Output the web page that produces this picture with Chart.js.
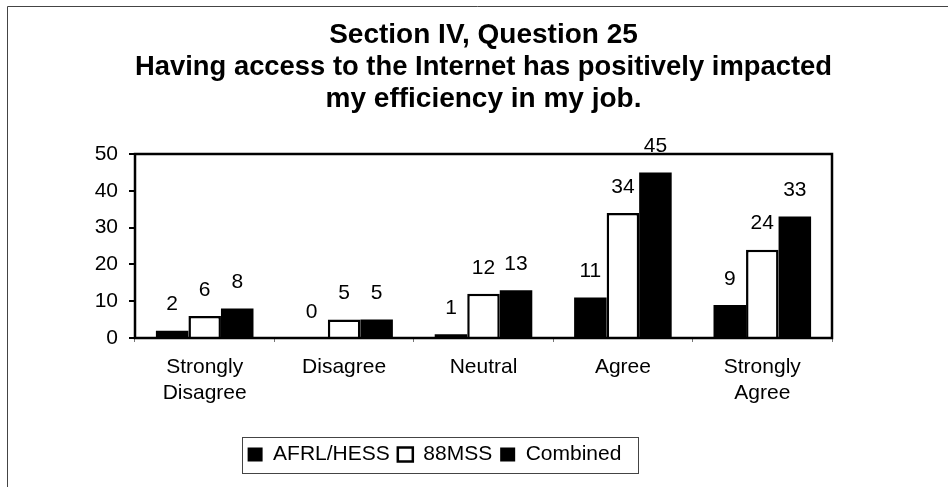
<!DOCTYPE html>
<html>
<head>
<meta charset="utf-8">
<script src="https://cdn.jsdelivr.net/npm/chart.js@4.4.1/dist/chart.umd.min.js"></script>
<style>
  html, body { margin: 0; padding: 0; background: #fff; }
  canvas { display: block; }
</style>
</head>
<body>
<canvas id="c" width="948" height="487"></canvas>
<script>
// ---- data ----
const categories = [['Strongly', 'Disagree'], 'Disagree', 'Neutral', 'Agree', ['Strongly', 'Agree']];
const seriesNames = ['AFRL/HESS', '88MSS', 'Combined'];
const afrlHess = [2, 0, 1, 11, 9];
const mss88 = [6, 5, 12, 34, 24];
const combined = [8, 5, 13, 45, 33];
const yMin = 0, yMax = 50, yStep = 10;
const titleLines = [
  'Section IV, Question 25',
  'Having access to the Internet has positively impacted',
  'my efficiency in my job.'
];

const FONT = "'Liberation Sans', Arial, Helvetica, sans-serif";

const decorPlugin = {
  id: 'decor',
  beforeDraw(chart) {
    const ctx = chart.ctx;
    ctx.save();
    ctx.strokeStyle = '#444';
    ctx.lineWidth = 1;
    ctx.beginPath();
    ctx.moveTo(7.5, 487);
    ctx.lineTo(7.5, 6.5);
    ctx.lineTo(948, 6.5);
    ctx.stroke();
    ctx.restore();
  },
  afterLayout(chart) {
    const lg = chart.legend;
    if (lg) {
      const cx = 434.5;
      const half = 250;
      lg.left = cx - half;
      lg.right = cx + half;
    }
  },
  afterDatasetsDraw(chart) {
    const ctx = chart.ctx;
    const a = chart.chartArea;
    ctx.save();
    // value labels
    ctx.fillStyle = '#000';
    ctx.font = '21px ' + FONT;
    ctx.textAlign = 'center';
    ctx.textBaseline = 'middle';
    chart.data.datasets.forEach((ds, di) => {
      const meta = chart.getDatasetMeta(di);
      meta.data.forEach((bar, i) => {
        ctx.fillText(String(ds.data[i]), bar.x, bar.y - 26);
      });
    });
    // plot frame
    ctx.strokeStyle = '#000';
    ctx.lineWidth = 2.5;
    ctx.strokeRect(a.left, a.top, a.right - a.left, a.bottom - a.top);
    ctx.restore();
  },
  afterDraw(chart) {
    const lg = chart.legend;
    if (!lg || !lg.lineWidths) return;
    const pad = lg.options.labels.padding;
    const startX = (lg.left + pad + lg.right - lg.lineWidths[0]) / 2;
    const endX = startX + lg.lineWidths[0] - pad;
    const fs = lg.options.labels.font.size;
    const ctx = chart.ctx;
    ctx.save();
    ctx.strokeStyle = '#444';
    ctx.lineWidth = 1;
    const top = Math.round(lg.top + pad - 7) + 0.5;
    const bottom = Math.round(lg.top + pad + fs + 8) + 0.5;
    ctx.strokeRect(Math.round(startX - 6) + 0.5, top, Math.round(endX + 16 - (startX - 6)), bottom - top);
    ctx.restore();
  }
};

new Chart(document.getElementById('c'), {
  type: 'bar',
  data: {
    labels: categories,
    datasets: [
      { label: seriesNames[0], data: afrlHess, backgroundColor: '#000', borderColor: '#000', borderWidth: 0 },
      { label: seriesNames[1], data: mss88, backgroundColor: '#fff', borderColor: '#000', borderWidth: 2.5 },
      { label: seriesNames[2], data: combined, backgroundColor: '#000', borderColor: '#000', borderWidth: 0 }
    ]
  },
  options: {
    responsive: false,
    animation: false,
    devicePixelRatio: 1,
    layout: { padding: { left: 0, right: 116, top: 0, bottom: 12 } },
    datasets: { bar: { categoryPercentage: 0.7, barPercentage: 1.0 } },
    plugins: {
      title: {
        display: true,
        fullSize: false,
        text: titleLines,
        color: '#000',
        font: { family: FONT, size: 28, weight: 'bold', lineHeight: 32 / 28 },
        padding: { top: 19, bottom: 39 }
      },
      legend: {
        display: true,
        position: 'bottom',
        labels: {
          color: '#000',
          font: { family: FONT, size: 21 },
          boxWidth: 15,
          boxHeight: 14,
          padding: 8
        }
      },
      tooltip: { enabled: false }
    },
    scales: {
      x: {
        ticks: {
          color: '#000',
          font: { family: FONT, size: 21, lineHeight: 1.26 },
          padding: 12,
          maxRotation: 0,
          autoSkip: false
        },
        grid: { drawOnChartArea: false, drawTicks: true, tickLength: 4, color: '#777', lineWidth: 1 },
        border: { display: false },
        afterFit(scale) { scale.height = 98; }
      },
      y: {
        min: yMin,
        max: yMax,
        ticks: {
          stepSize: yStep,
          color: '#000',
          font: { family: FONT, size: 21 },
          padding: 11
        },
        grid: { drawOnChartArea: false, drawTicks: true, tickLength: 6, color: '#000', lineWidth: 2 },
        border: { display: false },
        afterFit(scale) { scale.width = 135; }
      }
    }
  },
  plugins: [decorPlugin]
});
</script>
</body>
</html>
